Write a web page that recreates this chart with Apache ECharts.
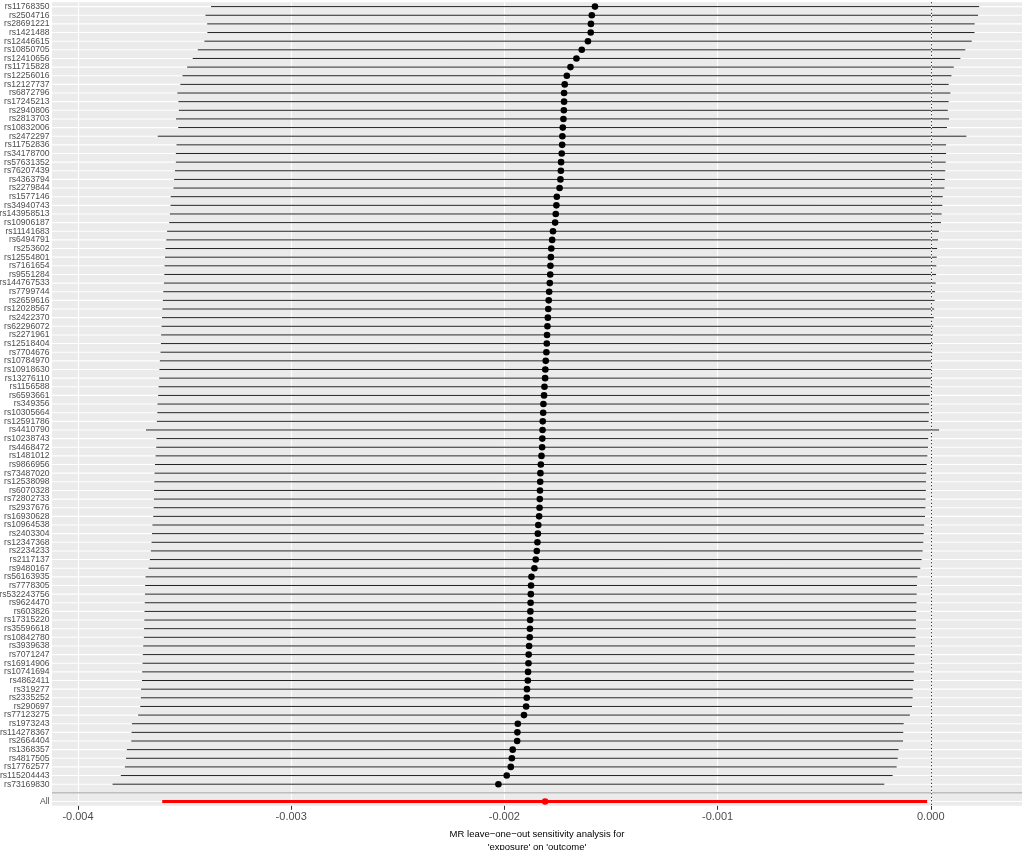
<!DOCTYPE html>
<html>
<head>
<meta charset="utf-8">
<title>MR leave-one-out</title>
<script src="https://cdn.jsdelivr.net/npm/echarts@6/dist/echarts.min.js"></script>
<style>
  html, body { margin: 0; padding: 0; background: #fff; }
  #chart { width: 1024px; height: 850px; }
</style>
</head>
<body>
<div id="chart"></div>
<script>
// leave-one-out SNPs, top to bottom
const snps = [
  'rs11768350', 'rs2504716', 'rs28691221', 'rs1421488', 'rs12446615', 'rs10850705', 'rs12410656', 'rs11715828', 'rs12256016', 'rs12127737',
  'rs6872796', 'rs17245213', 'rs2940806', 'rs2813703', 'rs10832006', 'rs2472297', 'rs11752836', 'rs34178700', 'rs57631352', 'rs76207439',
  'rs4363794', 'rs2279844', 'rs1577146', 'rs34940743', 'rs143958513', 'rs10906187', 'rs11141683', 'rs6494791', 'rs253602', 'rs12554801',
  'rs7161654', 'rs9551284', 'rs144767533', 'rs7799744', 'rs2659616', 'rs12028567', 'rs2422370', 'rs62296072', 'rs2271961', 'rs12518404',
  'rs7704676', 'rs10784970', 'rs10918630', 'rs13276110', 'rs1156588', 'rs6593661', 'rs349356', 'rs10305664', 'rs12591786', 'rs4410790',
  'rs10238743', 'rs4468472', 'rs1481012', 'rs9866956', 'rs73487020', 'rs12538098', 'rs6070328', 'rs72802733', 'rs2937676', 'rs16930628',
  'rs10964538', 'rs2403304', 'rs12347368', 'rs2234233', 'rs2117137', 'rs9480167', 'rs56163935', 'rs7778305', 'rs532243756', 'rs9624470',
  'rs603826', 'rs17315220', 'rs35596618', 'rs10842780', 'rs3939638', 'rs7071247', 'rs16914906', 'rs10741694', 'rs4862411', 'rs319277',
  'rs2335252', 'rs290697', 'rs77123275', 'rs1973243', 'rs114278367', 'rs2664404', 'rs1368357', 'rs4817505', 'rs17762577', 'rs115204443',
  'rs73169830'
]
const estimate = [
  -0.001575, -0.001590, -0.001594, -0.001595, -0.001608, -0.001637, -0.001662, -0.001690, -0.001707, -0.001717,
  -0.001720, -0.001720, -0.001721, -0.001723, -0.001726, -0.001728, -0.001729, -0.001731, -0.001734, -0.001735,
  -0.001737, -0.001741, -0.001754, -0.001756, -0.001759, -0.001762, -0.001772, -0.001776, -0.001780, -0.001782,
  -0.001784, -0.001785, -0.001787, -0.001790, -0.001792, -0.001794, -0.001796, -0.001798, -0.001800, -0.001801,
  -0.001803, -0.001806, -0.001808, -0.001809, -0.001812, -0.001814, -0.001817, -0.001818, -0.001820, -0.001821,
  -0.001822, -0.001823, -0.001826, -0.001829, -0.001831, -0.001832, -0.001833, -0.001834, -0.001835, -0.001837,
  -0.001841, -0.001843, -0.001845, -0.001848, -0.001853, -0.001859, -0.001873, -0.001875, -0.001876, -0.001877,
  -0.001878, -0.001879, -0.001880, -0.001881, -0.001884, -0.001886, -0.001887, -0.001889, -0.001890, -0.001894,
  -0.001895, -0.001898, -0.001908, -0.001937, -0.001939, -0.001940, -0.001961, -0.001965, -0.001970, -0.001989,
  -0.002028
]
const lower = [
  -0.003376, -0.003402, -0.003394, -0.003393, -0.003407, -0.003438, -0.003462, -0.003488, -0.003510, -0.003520,
  -0.003534, -0.003529, -0.003527, -0.003540, -0.003530, -0.003626, -0.003538, -0.003541, -0.003541, -0.003545,
  -0.003549, -0.003552, -0.003565, -0.003566, -0.003569, -0.003572, -0.003582, -0.003586, -0.003590, -0.003592,
  -0.003594, -0.003595, -0.003597, -0.003600, -0.003602, -0.003604, -0.003606, -0.003608, -0.003610, -0.003611,
  -0.003613, -0.003616, -0.003618, -0.003619, -0.003622, -0.003624, -0.003627, -0.003628, -0.003630, -0.003681,
  -0.003632, -0.003633, -0.003636, -0.003639, -0.003641, -0.003642, -0.003643, -0.003644, -0.003645, -0.003647,
  -0.003651, -0.003653, -0.003655, -0.003658, -0.003663, -0.003669, -0.003683, -0.003685, -0.003686, -0.003687,
  -0.003688, -0.003689, -0.003690, -0.003691, -0.003694, -0.003696, -0.003697, -0.003699, -0.003700, -0.003704,
  -0.003705, -0.003708, -0.003718, -0.003747, -0.003749, -0.003750, -0.003771, -0.003775, -0.003780, -0.003799,
  -0.003838
]
const upper = [
  0.000227, 0.000222, 0.000206, 0.000205, 0.000192, 0.000162, 0.000139, 0.000108, 0.000097, 0.000084,
  0.000092, 0.000084, 0.000080, 0.000086, 0.000076, 0.000167, 0.000072, 0.000072, 0.000070, 0.000068,
  0.000066, 0.000064, 0.000056, 0.000054, 0.000051, 0.000048, 0.000038, 0.000034, 0.000030, 0.000028,
  0.000026, 0.000025, 0.000023, 0.000020, 0.000018, 0.000016, 0.000014, 0.000012, 0.000010, 0.000009,
  0.000007, 0.000004, 0.000002, 0.000001, -0.000002, -0.000004, -0.000007, -0.000008, -0.000010, 0.000039,
  -0.000012, -0.000013, -0.000016, -0.000019, -0.000021, -0.000022, -0.000023, -0.000024, -0.000025, -0.000027,
  -0.000031, -0.000033, -0.000035, -0.000038, -0.000043, -0.000049, -0.000063, -0.000065, -0.000066, -0.000067,
  -0.000068, -0.000069, -0.000070, -0.000071, -0.000074, -0.000076, -0.000077, -0.000079, -0.000080, -0.000084,
  -0.000085, -0.000088, -0.000098, -0.000127, -0.000129, -0.000130, -0.000151, -0.000155, -0.000160, -0.000179,
  -0.000218
]
// all SNPs (inverse variance weighted)
const allEstimate = -0.001809
const allLower = -0.003605
const allUpper = -0.000017

const xTicks = [-0.004, -0.003, -0.002, -0.001, 0]
const xMinorTicks = [-0.0035, -0.0025, -0.0015, -0.0005]

const categories = snps.concat(['', 'All'])
const blankIndex = snps.length
const allIndex = snps.length + 1

// [lower, upper, estimate, row, kind]  kind: 0 snp, 1 all, 2 separator
const looData = snps.map((s, i) => [lower[i], upper[i], estimate[i], i, 0])
looData.push([0, 0, 0, blankIndex, 2])
looData.push([allLower, allUpper, allEstimate, allIndex, 1])

const rowData = categories.map((c, i) => [0, i]).filter(d => categories[d[1]] !== '')

const chartDom = document.getElementById('chart')
const myChart = echarts.init(chartDom, null, { renderer: 'canvas' })

const fontFamily = '"Liberation Sans", Arial, Helvetica, sans-serif'

const option = {
  animation: false,
  backgroundColor: '#ffffff',
  grid: {
    left: 52,
    right: 2,
    top: 2.3,
    height: 803.5,
    containLabel: false,
    outerBoundsMode: 'none',
    show: true,
    backgroundColor: '#EBEBEB',
    borderWidth: 0
  },
  xAxis: {
    type: 'value',
    min: -0.004122,
    max: 0.000428,
    axisLine: { show: false },
    axisTick: { show: true, length: 4, lineStyle: { color: '#333333', width: 1 }, customValues: xTicks },
    axisLabel: {
      customValues: xTicks,
      color: '#4D4D4D',
      fontSize: 11,
      fontFamily: fontFamily,
      margin: 6,
      formatter: function(v) {
        return v === 0 ? '0.000' : v.toFixed(3)
      }
    },
    splitLine: { show: true, lineStyle: { color: '#ffffff', width: 1.1 } },
    name: 'MR leave\u2212one\u2212out sensitivity analysis for\n\'exposure\' on \'outcome\'',
    nameLocation: 'middle',
    nameGap: 18,
    nameTextStyle: { color: '#000000', fontSize: 9.5, fontFamily: fontFamily, lineHeight: 13, verticalAlign: 'top' }
  },
  yAxis: {
    type: 'category',
    data: categories,
    inverse: true,
    boundaryGap: true,
    axisLine: { show: false },
    axisTick: { show: false },
    axisLabel: { interval: 0, color: '#4D4D4D', fontSize: 8.6, fontFamily: fontFamily, margin: 2.5 },
    splitLine: { show: false }
  },
  series: [
    {
      // horizontal grid lines at each row
      type: 'custom',
      name: 'rows',
      silent: true,
      z: 1,
      encode: { x: 0, y: 1 },
      data: rowData,
      renderItem: function(params, api) {
        const cs = params.coordSys
        const y = api.coord([0, api.value(1)])[1]
        return {
          type: 'line',
          shape: { x1: cs.x, y1: y, x2: cs.x + cs.width, y2: y },
          style: { stroke: '#ffffff', lineWidth: 1.1 }
        }
      }
    },
    {
      // minor vertical grid and zero line
      type: 'line',
      name: 'guides',
      data: [],
      z: 2,
      silent: true,
      markLine: {
        silent: true,
        symbol: ['none', 'none'],
        label: { show: false },
        animation: false,
        data: xMinorTicks.map(v => ({ xAxis: v, lineStyle: { color: '#ffffff', width: 0.6, type: 'solid' } }))
          .concat([{ xAxis: 0, lineStyle: { color: '#000000', width: 1, type: [1, 2.5] } }])
      }
    },
    {
      type: 'custom',
      name: 'leave-one-out',
      z: 3,
      encode: { x: [0, 1, 2], y: 3 },
      data: looData,
      renderItem: function(params, api) {
        const cs = params.coordSys
        const row = api.value(3)
        const kind = api.value(4)
        if (kind === 2) {
          const yb = api.coord([0, row])[1]
          return {
            type: 'line',
            shape: { x1: cs.x, y1: yb, x2: cs.x + cs.width, y2: yb },
            style: { stroke: '#BEBEBE', lineWidth: 1.5 }
          }
        }
        const p0 = api.coord([api.value(0), row])
        const p1 = api.coord([api.value(1), row])
        const pc = api.coord([api.value(2), row])
        const color = kind === 1 ? '#FF0000' : '#000000'
        return {
          type: 'group',
          children: [
            {
              type: 'line',
              shape: { x1: p0[0], y1: p0[1], x2: p1[0], y2: p1[1] },
              style: { stroke: kind === 1 ? '#FF0000' : '#222222', lineWidth: kind === 1 ? 3 : 1 }
            },
            {
              type: 'circle',
              shape: { cx: pc[0], cy: pc[1], r: 3.3 },
              style: { fill: color }
            }
          ]
        }
      }
    }
  ]
}

myChart.setOption(option)
</script>
</body>
</html>
